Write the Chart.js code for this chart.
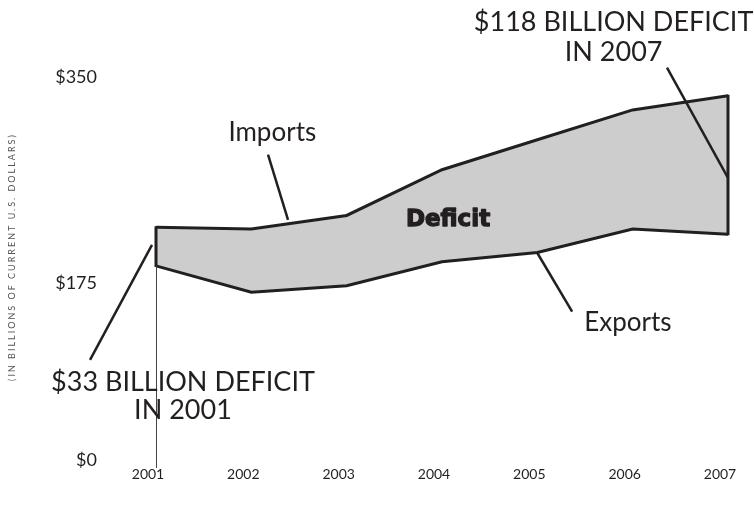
<!DOCTYPE html>
<html>
<head>
<meta charset="utf-8">
<script src="https://cdn.jsdelivr.net/npm/chart.js@4/dist/chart.umd.min.js"></script>
<style>
  html, body { margin: 0; padding: 0; background: #fff; }
  #wrap { width: 754px; height: 513px; }
</style>
</head>
<body>
<div id="wrap"><canvas id="trade"></canvas></div>
<script>
const years = ["2001", "2002", "2003", "2004", "2005", "2006", "2007"]
const imports = [222.5, 221, 232.5, 271.5, 297, 322.5, 334.5]
const exports = [189.5, 167, 172.5, 193, 201, 221, 216.5]
// the axis is cut below $175, its floor carries the $0 label
const yTickValues = [24, 175, 350]
const yTickLabels = ["$0", "$175", "$350"]

const ink = "#231f20"
const font = "Lato, 'DejaVu Sans', sans-serif"

// callouts, placed in data units (x = year index, y = billions)
const notes = [
    {x: 1.22, y: 303, lines: ["Imports"], size: 26, weight: "normal"},
    {x: 4.95, y: 141.5, lines: ["Exports"], size: 26, weight: "normal"},
    {x: 3.063, y: 228.3, lines: ["Deficit"], size: 23, weight: "bold", family: "'DejaVu Sans', sans-serif", heavy: true},
    {x: 0.283, y: 90.5, lines: ["$33 BILLION DEFICIT", "IN 2001"], size: 27, weight: "normal", gap: 28},
    {x: 4.8, y: 397, lines: ["$118 BILLION DEFICIT", "IN 2007"], size: 27, weight: "normal", gap: 30},
]
const pointers = [
    [1.175, 284.3, 1.385, 228.8],
    [4.0, 200.5, 4.365, 150.5],
    [-0.042, 207.4, -0.692, 109.3],
    [5.36, 358.5, 6.0, 264.6],
]

const callouts = {
    id: "callouts",
    afterDatasetsDraw(chart) {
        const ctx = chart.ctx
        const xs = chart.scales.x, ys = chart.scales.y
        const px = (i) => xs.left + (xs.right - xs.left) * i / (years.length - 1)
        const last = years.length - 1
        ctx.save()
        // closing edges of the deficit band
        ctx.strokeStyle = ink
        ctx.lineWidth = 3
        ctx.beginPath()
        ctx.moveTo(px(0), ys.getPixelForValue(imports[0]) - 1)
        ctx.lineTo(px(0), ys.getPixelForValue(exports[0]) + 1)
        ctx.moveTo(px(last), ys.getPixelForValue(imports[last]) - 1)
        ctx.lineTo(px(last), ys.getPixelForValue(exports[last]) + 1)
        ctx.stroke()
        // hairline under 2001
        ctx.lineWidth = 1
        ctx.strokeStyle = "#444"
        ctx.beginPath()
        ctx.moveTo(px(0) + 0.5, ys.getPixelForValue(exports[0]))
        ctx.lineTo(px(0) + 0.5, ys.bottom + 8)
        ctx.stroke()
        // pointer lines
        ctx.strokeStyle = ink
        ctx.lineWidth = 2.5
        for (const p of pointers) {
            ctx.beginPath()
            ctx.moveTo(px(p[0]), ys.getPixelForValue(p[1]))
            ctx.lineTo(px(p[2]), ys.getPixelForValue(p[3]))
            ctx.stroke()
        }
        // labels
        ctx.fillStyle = ink
        ctx.textAlign = "center"
        ctx.textBaseline = "middle"
        ctx.lineWidth = 1.3
        ctx.lineJoin = "round"
        for (const n of notes) {
            ctx.font = `${n.weight} ${n.size}px ${n.family || font}`
            n.lines.forEach((t, k) => {
                const y = ys.getPixelForValue(n.y) + k * (n.gap || 0)
                ctx.fillText(t, px(n.x), y)
                if (n.heavy) ctx.strokeText(t, px(n.x), y)
            })
        }
        // unit note along the left edge
        ctx.translate(12, ys.getPixelForValue(197))
        ctx.rotate(-Math.PI / 2)
        ctx.fillStyle = "#555"
        ctx.font = `9px ${font}`
        ctx.letterSpacing = "2px"
        ctx.fillText("(IN BILLIONS OF CURRENT U.S. DOLLARS)", 0, 0)
        ctx.restore()
    }
}

new Chart(document.getElementById("trade"), {
    type: "line",
    plugins: [callouts],
    data: {
        labels: years,
        datasets: [
            {
                label: "Imports",
                data: imports,
                borderColor: ink,
                borderWidth: 3,
                backgroundColor: "#cdcdcd",
                fill: "+1",
                pointRadius: 0,
                tension: 0,
            },
            {
                label: "Exports",
                data: exports,
                borderColor: ink,
                borderWidth: 3,
                pointRadius: 0,
                fill: false,
                tension: 0,
            },
        ],
    },
    options: {
        responsive: true,
        maintainAspectRatio: false,
        animation: false,
        layout: {padding: {top: 19, right: 26, left: 0, bottom: 0}},
        plugins: {
            legend: {display: false},
            tooltip: {enabled: false},
            filler: {drawTime: "beforeDatasetsDraw"},
        },
        scales: {
            x: {
                grid: {display: false, drawTicks: false},
                border: {display: false},
                ticks: {color: ink, font: {family: font, size: 14}, padding: 6, maxRotation: 0, labelOffset: -8},
                afterFit: (s) => { s.height = 53 },
            },
            y: {
                min: 24,
                max: 400,
                grid: {display: false, drawTicks: false},
                border: {display: false},
                afterBuildTicks: (s) => { s.ticks = yTickValues.map(v => ({value: v})) },
                ticks: {
                    color: ink,
                    font: {family: font, size: 18},
                    padding: 59,
                    callback: (v) => yTickLabels[yTickValues.indexOf(v)],
                },
                afterFit: (s) => {
                    s.width = 156
                    // the wide label gap should not eat into the plot height
                    s.paddingTop = 0
                    s.paddingBottom = 0
                },
            },
        },
    },
})
</script>
</body>
</html>
